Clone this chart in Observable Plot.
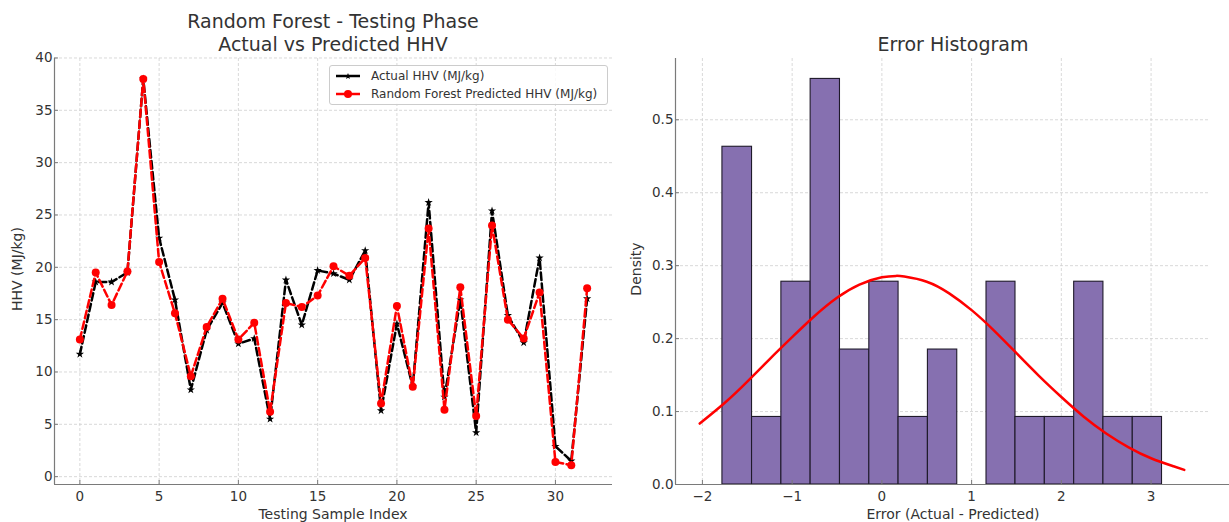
<!DOCTYPE html>
<html>
<head>
<meta charset="utf-8">
<script src="https://cdn.jsdelivr.net/npm/d3@7"></script>
<script src="https://cdn.jsdelivr.net/npm/@observablehq/plot@0.6"></script>
<style>
  html, body { margin: 0; padding: 0; background: #fff; }
  #wrap { position: relative; width: 1229px; height: 522px; font-family: "DejaVu Sans", sans-serif; color: #333; overflow: hidden; }
  .abs { position: absolute; white-space: nowrap; }
  .title { font-size: 19px; text-align: center; line-height: 23px; color: #333; }
  .axlabel { font-size: 14px; color: #333; }
  #legend { position: absolute; left: 329px; top: 65px; width: 277px; height: 38px; border: 1px solid #ccc; border-radius: 3px; background: rgba(255,255,255,0.85); font-size: 12px; color: #333; }
  #legend .row { position: absolute; left: 6px; height: 16px; display: flex; align-items: center; }
  #legend .row span { margin-left: 11px; }
</style>
</head>
<body>
<div id="wrap">
  <div id="left" class="abs" style="left:0;top:0"></div>
  <div id="right" class="abs" style="left:614px;top:0"></div>
  <div class="abs title" style="left:133px;top:10px;width:400px">Random Forest - Testing Phase<br>Actual vs Predicted HHV</div>
  <div class="abs title" style="left:753px;top:33px;width:400px">Error Histogram</div>
  <div class="abs axlabel" style="left:133px;top:506px;width:400px;text-align:center">Testing Sample Index</div>
  <div class="abs axlabel" style="left:753px;top:506px;width:400px;text-align:center">Error (Actual - Predicted)</div>
  <div class="abs axlabel" style="left:-83px;top:261px;width:200px;text-align:center;transform:rotate(-90deg)">HHV (MJ/kg)</div>
  <div class="abs axlabel" style="left:536px;top:261px;width:200px;text-align:center;transform:rotate(-90deg)">Density</div>
  <div id="legend">
    <div class="row" style="top:2px">
      <svg width="24" height="10"><line x1="0" y1="5" x2="24" y2="5" stroke="black" stroke-width="2.5"/><path d="M12,2 L12.8,4.1 L15,4.3 L13.3,5.7 L13.9,7.9 L12,6.7 L10.1,7.9 L10.7,5.7 L9,4.3 L11.2,4.1 Z" fill="black"/></svg>
      <span>Actual HHV (MJ/kg)</span>
    </div>
    <div class="row" style="top:20px">
      <svg width="24" height="10"><line x1="0" y1="5" x2="24" y2="5" stroke="red" stroke-width="2.5"/><circle cx="12" cy="5" r="4" fill="red"/></svg>
      <span>Random Forest Predicted HHV (MJ/kg)</span>
    </div>
  </div>
</div>
<script>
// ---------------- Data: left panel ----------------
const sampleIndex = [0,1,2,3,4,5,6,7,8,9,10,11,12,13,14,15,16,17,18,19,20,21,22,23,24,25,26,27,28,29,30,31,32];
const actualHHV = [11.7,18.6,18.6,19.5,38.0,22.8,16.9,8.3,14.0,16.6,12.7,13.2,5.5,18.8,14.5,19.7,19.4,18.8,21.6,6.3,14.6,8.6,26.2,7.6,16.9,4.2,25.4,15.4,12.8,20.9,2.9,1.5,17.0];
const predictedHHV = [13.1,19.5,16.4,19.6,38.0,20.5,15.6,9.6,14.3,17.0,13.1,14.7,6.2,16.6,16.2,17.3,20.1,19.2,20.9,7.0,16.3,8.6,23.7,6.4,18.1,5.8,24.0,15.0,13.2,17.6,1.4,1.1,18.0];
const leftXTicks = [0,5,10,15,20,25,30];
const leftYTicks = [0,5,10,15,20,25,30,35,40];

// ---------------- Data: right panel ----------------
const binEdges = [-1.777,-1.447,-1.120,-0.794,-0.467,-0.140,0.186,0.513,0.840,1.166,1.489,1.816,2.143,2.469,2.796,3.122];
const binDensity = [0.463,0.0926,0.278,0.556,0.185,0.278,0.0926,0.185,0,0.278,0.0926,0.0926,0.278,0.0926,0.0926];
const curveX = [-2.03,-1.75,-1.5,-1.25,-1.0,-0.75,-0.5,-0.25,0,0.16,0.25,0.5,0.75,1.0,1.25,1.5,1.75,2.0,2.25,2.5,2.75,3.0,3.25,3.37];
const curveY = [0.0835,0.112,0.141,0.172,0.202,0.231,0.256,0.274,0.284,0.286,0.285,0.278,0.262,0.239,0.211,0.180,0.149,0.120,0.093,0.070,0.051,0.036,0.025,0.020];
const rightXTicks = [-2,-1,0,1,2,3];
const rightYTicks = [0,0.1,0.2,0.3,0.4,0.5];

// ---------------- Build tables ----------------
const series = sampleIndex.map((i, k) => ({i, actual: actualHHV[k], predicted: predictedHHV[k]}));
const bins = binDensity.map((d, k) => ({x1: binEdges[k], x2: binEdges[k + 1], density: d})).filter(b => b.density > 0);
const curve = curveX.map((x, k) => ({x, y: curveY[k]}));

const gridColor = "#cfcfcf";
const spineColor = "#7a7a7a";
const style = {fontFamily: "DejaVu Sans, sans-serif", fontSize: "13.5px", color: "#333", background: "transparent", overflow: "visible"};

const leftXDomain = [-1.6, 33.6];
const leftYDomain = [-0.75, 39.95];

const left = Plot.plot({
  width: 614, height: 522,
  marginLeft: 54, marginRight: 2, marginTop: 58, marginBottom: 38,
  style,
  x: {domain: leftXDomain},
  y: {domain: leftYDomain},
  marks: [
    Plot.gridX(leftXTicks, {stroke: gridColor, strokeOpacity: 1, strokeDasharray: "3,2", strokeWidth: 0.8}),
    Plot.gridY(leftYTicks, {stroke: gridColor, strokeOpacity: 1, strokeDasharray: "3,2", strokeWidth: 0.8}),
    Plot.axisX(leftXTicks, {tickSize: -4, tickPadding: 11, stroke: spineColor, label: null, fill: "#333"}),
    Plot.axisY(leftYTicks, {tickSize: -4, tickPadding: 6, stroke: spineColor, label: null, fill: "#333"}),
    Plot.ruleX([leftXDomain[0]], {stroke: spineColor, strokeWidth: 1.2}),
    Plot.ruleY([leftYDomain[0]], {stroke: spineColor, strokeWidth: 1.2}),
    Plot.line(series, {x: "i", y: "actual", stroke: "black", strokeWidth: 2.5, strokeDasharray: "7.5,3.5"}),
    Plot.dot(series, {x: "i", y: "actual", symbol: "star", r: 2.6, fill: "black", stroke: null}),
    Plot.line(series, {x: "i", y: "predicted", stroke: "red", strokeWidth: 2.5, strokeDasharray: "7.5,3.5"}),
    Plot.dot(series, {x: "i", y: "predicted", r: 4, fill: "red", stroke: null})
  ]
});
document.getElementById("left").appendChild(left);

const rightXDomain = [-2.3, 3.64];
const rightYDomain = [0, 0.584];

const right = Plot.plot({
  width: 615, height: 522,
  marginLeft: 61, marginRight: 21, marginTop: 58, marginBottom: 38,
  style,
  x: {domain: rightXDomain},
  y: {domain: rightYDomain},
  marks: [
    Plot.gridX(rightXTicks, {stroke: gridColor, strokeOpacity: 1, strokeDasharray: "3,2", strokeWidth: 0.8}),
    Plot.gridY(rightYTicks, {stroke: gridColor, strokeOpacity: 1, strokeDasharray: "3,2", strokeWidth: 0.8}),
    Plot.rectY(bins, {x1: "x1", x2: "x2", y: "density", fill: "#8670b0", stroke: "#1f1a2a", strokeWidth: 1.1, inset: 0}),
    Plot.axisX(rightXTicks, {tickSize: -4, tickPadding: 11, stroke: spineColor, label: null, fill: "#333", tickFormat: d3.format("")}),
    Plot.axisY(rightYTicks, {tickSize: -4, tickPadding: 6, stroke: spineColor, label: null, fill: "#333", tickFormat: d3.format(".1f")}),
    Plot.ruleX([rightXDomain[0]], {stroke: spineColor, strokeWidth: 1.2}),
    Plot.ruleY([rightYDomain[0]], {stroke: spineColor, strokeWidth: 1.2, x1: rightXDomain[0], x2: 3.9}),
    Plot.line(curve, {x: "x", y: "y", stroke: "red", strokeWidth: 2.5, curve: "natural"})
  ]
});
document.getElementById("right").appendChild(right);
</script>
</body>
</html>
